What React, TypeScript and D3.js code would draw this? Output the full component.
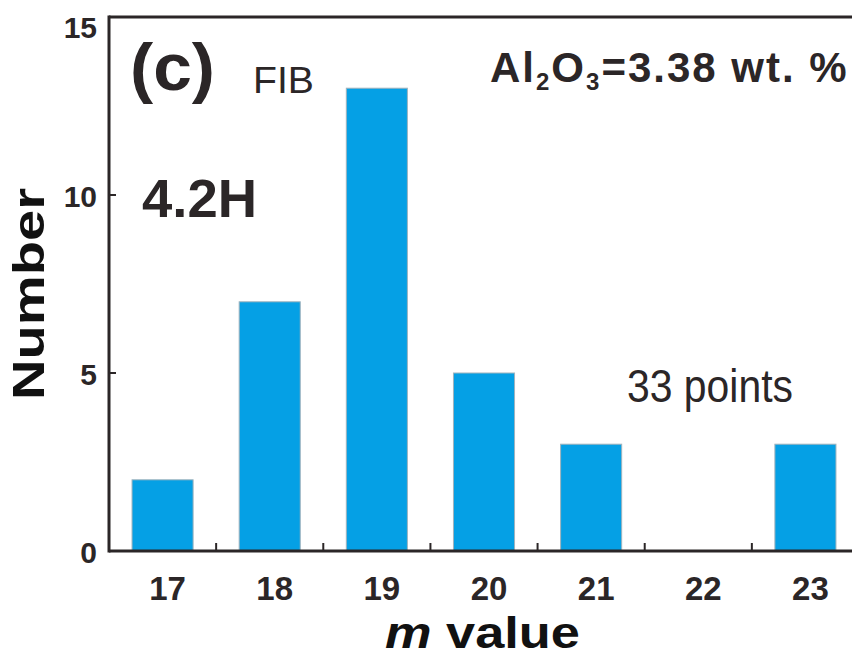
import * as d3 from "d3";

// m value categories and number of points per category
const categories = ["17", "18", "19", "20", "21", "22", "23"];
const counts = [2, 7, 13, 5, 3, 0, 3];
const yTicks = [0, 5, 10, 15];

const W = 852;
const H = 662;
const ink = "#2b2627";
const barFill = "#05a0e5";
const font = "'Liberation Sans', Arial, Helvetica, sans-serif";

export default function App() {
  const left = 109;
  const top = 17;
  const bottom = 551;

  const x = d3
    .scaleBand<string>()
    .domain(categories)
    .range([left, 859])
    .paddingInner(0.43)
    .paddingOuter(0.215);

  const y = d3.scaleLinear().domain([0, 15]).range([bottom, top]);

  const gap = (x.step() - x.bandwidth()) / 2;
  // boundaries between categories, where the small x ticks sit
  const boundaries = categories.slice(1).map((c) => (x(c) ?? 0) - gap);

  return (
    <svg
      width={W}
      height={H}
      style={{ position: "absolute", left: 0, top: 0, background: "#fff" }}
      fontFamily={font}
    >
      {/* bars */}
      {categories.map((c, i) => (
        <rect
          key={c}
          x={x(c)}
          y={y(counts[i])}
          width={x.bandwidth()}
          height={bottom - y(counts[i])}
          fill={barFill}
          stroke="#9fb3bd"
          strokeWidth={counts[i] > 0 ? 1 : 0}
        />
      ))}

      {/* frame */}
      <line x1={left} x2={W} y1={top} y2={top} stroke={ink} strokeWidth={3} />
      <line x1={left} x2={left} y1={top - 1.5} y2={bottom + 1.5} stroke={ink} strokeWidth={3} />
      <line x1={left} x2={W} y1={bottom} y2={bottom} stroke={ink} strokeWidth={3} />

      {/* y ticks */}
      {yTicks.slice(1, 3).map((t) => (
        <line key={t} x1={left} x2={left + 7} y1={y(t)} y2={y(t)} stroke={ink} strokeWidth={2} />
      ))}
      {yTicks.map((t) => (
        <text
          key={t}
          x={97}
          y={Math.max(y(t) + 12, 38)}
          textAnchor="end"
          fontSize={30}
          fontWeight="bold"
          fill={ink}
        >
          {t}
        </text>
      ))}

      {/* x ticks */}
      {boundaries.map((b, i) => (
        <line key={i} x1={b} x2={b} y1={bottom} y2={bottom - 8} stroke={ink} strokeWidth={2} />
      ))}
      {categories.map((c) => (
        <text
          key={c}
          x={(x(c) ?? 0) + x.bandwidth() / 2 + 5}
          y={600}
          textAnchor="middle"
          fontSize={33}
          fontWeight="bold"
          fill={ink}
        >
          {c}
        </text>
      ))}

      {/* axis titles */}
      <text
        transform="translate(44,294) rotate(-90)"
        textAnchor="middle"
        fontSize={44}
        fontWeight="bold"
        fill="#111"
        textLength={212}
        lengthAdjust="spacingAndGlyphs"
      >
        Number
      </text>
      <text
        x={385}
        y={648}
        fontSize={44}
        fontWeight="bold"
        fill="#111"
        textLength={195}
        lengthAdjust="spacingAndGlyphs"
      >
        <tspan fontStyle="italic">m</tspan> value
      </text>

      {/* annotations */}
      <text
        x={130}
        y={90}
        fontSize={66}
        fontWeight="bold"
        fill={ink}
        textLength={85}
        lengthAdjust="spacingAndGlyphs"
      >
        (c)
      </text>
      <text x={253} y={93} fontSize={36} fill={ink} textLength={61} lengthAdjust="spacingAndGlyphs">
        FIB
      </text>
      <text x={490} y={82} fontSize={42} fontWeight="bold" fill={ink} letterSpacing={2}>
        Al
        <tspan fontSize={24} dy={8}>2</tspan>
        <tspan dy={-8}>O</tspan>
        <tspan fontSize={24} dy={8}>3</tspan>
        <tspan dy={-8}>=3.38 wt. %</tspan>
      </text>
      <text
        x={142}
        y={217}
        fontSize={54}
        fontWeight="bold"
        fill={ink}
        textLength={115}
        lengthAdjust="spacingAndGlyphs"
      >
        4.2H
      </text>
      <text
        x={627}
        y={402}
        fontSize={46}
        fill={ink}
        textLength={166}
        lengthAdjust="spacingAndGlyphs"
      >
        33 points
      </text>
    </svg>
  );
}
